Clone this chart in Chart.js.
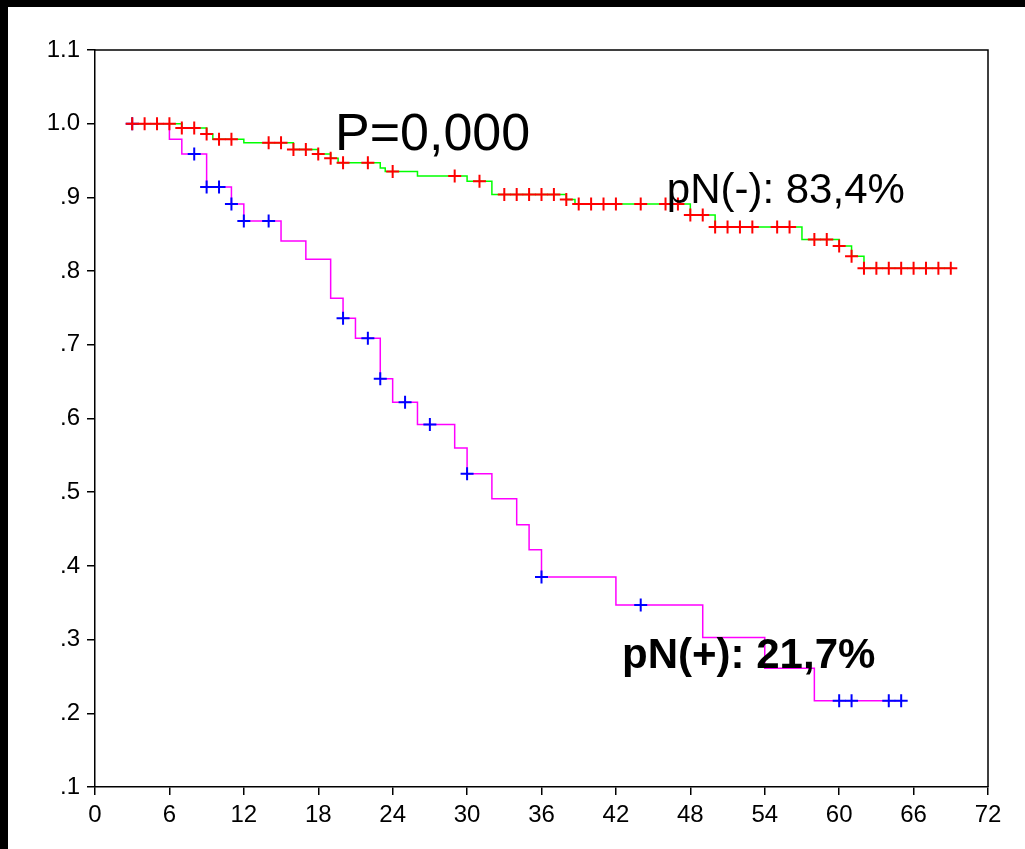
<!DOCTYPE html>
<html>
<head>
<meta charset="utf-8">
<script src="https://cdn.jsdelivr.net/npm/chart.js@4/dist/chart.umd.min.js"></script>
<style>
    html, body { margin: 0; padding: 0; background: #000; }
    #wrap { position: absolute; left: 8px; top: 7px; width: 1017px; height: 842px; background: #fff; }
</style>
</head>
<body>
<div id="wrap"><canvas id="kmChart"></canvas></div>
<script>
// pN(-): step times (months) and survival after each drop
const pNegTimes = [3, 7, 9, 9.5, 12, 16, 18, 19, 19.6, 23, 23.4, 26, 30, 32, 38, 38.7, 48, 50, 57, 60, 61, 62, 69.2];
const pNegSurvival = [1.0, 0.994, 0.986, 0.979, 0.974, 0.965, 0.959, 0.953, 0.947, 0.940, 0.935, 0.929, 0.922, 0.904, 0.897, 0.891, 0.876, 0.860, 0.843, 0.834, 0.820, 0.804, 0.804];
const pNegCensored = [3, 4, 5, 6, 7, 8, 9, 10, 11, 14, 15, 16, 17, 18, 19, 20, 22, 24, 29, 31, 33, 34, 35, 36, 37, 38, 39, 40, 41, 42, 44, 46, 47, 48, 49, 50, 51, 52, 53, 55, 56, 58, 59, 60, 61, 62, 63, 64, 65, 66, 67, 68, 69];

// pN(+)
const pPosTimes = [3, 6, 7, 9, 11, 12, 15, 17, 19, 20, 21, 23, 24, 26, 29, 30, 32, 34, 35, 36, 42, 49, 54, 58, 65];
const pPosSurvival = [1.0, 0.979, 0.959, 0.914, 0.891, 0.868, 0.841, 0.816, 0.763, 0.736, 0.709, 0.654, 0.622, 0.592, 0.560, 0.525, 0.491, 0.456, 0.422, 0.385, 0.347, 0.303, 0.261, 0.217, 0.217];
const pPosCensored = [3, 8, 9, 10, 11, 12, 14, 20, 22, 23, 25, 27, 30, 36, 44, 60, 61, 64, 65];

const xTicks = [0, 6, 12, 18, 24, 30, 36, 42, 48, 54, 60, 66, 72];

const labels = [
    { text: 'P=0,000', x: 19.35, y: 0.964, font: '52px "Liberation Sans", Arial, sans-serif' },
    { text: 'pN(-): 83,4%', x: 46.1, y: 0.892, font: '42px "Liberation Sans", Arial, sans-serif' },
    { text: 'pN(+): 21,7%', x: 42.5, y: 0.262, font: 'bold 42px "Liberation Sans", Arial, sans-serif' }
];

function toPoints(times, surv) {
    return times.map((t, i) => ({ x: t, y: surv[i] }));
}

// survival level of the curve at time t (used to place censor marks on the curve)
function survivalAt(times, surv, t) {
    let s = surv[0];
    for (let i = 0; i < times.length; i++) {
        if (times[i] <= t + 1e-9) s = surv[i];
    }
    return s;
}

function censorPoints(times, surv, censored) {
    return censored.map(t => ({ x: t, y: survivalAt(times, surv, t) }));
}

const framePlugin = {
    id: 'frame',
    beforeDatasetsDraw(chart) {
        const { ctx, chartArea } = chart;
        ctx.save();
        ctx.strokeStyle = '#000';
        ctx.lineWidth = 1.5;
        ctx.beginPath();
        ctx.moveTo(chartArea.left, chartArea.top);
        ctx.lineTo(chartArea.right, chartArea.top);
        ctx.lineTo(chartArea.right, chartArea.bottom);
        ctx.stroke();
        ctx.restore();
    },
    afterDatasetsDraw(chart) {
        const { ctx, scales } = chart;
        ctx.save();
        ctx.fillStyle = '#000';
        ctx.textBaseline = 'alphabetic';
        ctx.textAlign = 'left';
        labels.forEach(l => {
            ctx.font = l.font;
            ctx.fillText(l.text, scales.x.getPixelForValue(l.x), scales.y.getPixelForValue(l.y));
        });
        ctx.restore();
    }
};

const tickFont = { family: '"Liberation Sans", Arial, sans-serif', size: 24 };

const ctx = document.getElementById('kmChart').getContext('2d');
new Chart(ctx, {
    type: 'line',
    data: {
        datasets: [{
            label: 'pN(-)',
            data: toPoints(pNegTimes, pNegSurvival),
            borderColor: '#00ff00',
            borderWidth: 1.5,
            stepped: true,
            pointRadius: 0,
            fill: false,
            order: 1
        }, {
            label: 'pN(+)',
            data: toPoints(pPosTimes, pPosSurvival),
            borderColor: '#ff00ff',
            borderWidth: 1.5,
            stepped: true,
            pointRadius: 0,
            fill: false,
            order: 2
        }, {
            label: 'pN(-) censored',
            data: censorPoints(pNegTimes, pNegSurvival, pNegCensored),
            showLine: false,
            pointStyle: 'cross',
            pointRadius: 6.5,
            pointBorderWidth: 2,
            pointBorderColor: '#ff0000',
            borderColor: '#ff0000',
            order: 0
        }, {
            label: 'pN(+) censored',
            data: censorPoints(pPosTimes, pPosSurvival, pPosCensored),
            showLine: false,
            pointStyle: 'cross',
            pointRadius: 6.5,
            pointBorderWidth: 2,
            pointBorderColor: '#0000ff',
            borderColor: '#0000ff',
            order: 0
        }]
    },
    options: {
        responsive: true,
        maintainAspectRatio: false,
        animation: false,
        layout: { padding: { top: 43, right: 37, left: 0, bottom: 0 } },
        plugins: {
            legend: { display: false },
            tooltip: { enabled: false }
        },
        scales: {
            x: {
                type: 'linear',
                min: 0,
                max: 72,
                afterBuildTicks: axis => { axis.ticks = xTicks.map(v => ({ value: v })); },
                afterFit: axis => { axis.height = 62; },
                grid: { drawOnChartArea: false, drawTicks: true, tickLength: 8, color: '#000', lineWidth: 1.5 },
                border: { color: '#000', width: 1.5 },
                ticks: { color: '#000', font: tickFont, padding: 6, maxRotation: 0, autoSkip: false }
            },
            y: {
                type: 'linear',
                min: 0.1,
                max: 1.1,
                ticks: {
                    stepSize: 0.1,
                    color: '#000',
                    font: tickFont,
                    padding: 7,
                    callback: v => {
                        const s = (Math.round(v * 10) / 10).toFixed(1);
                        return s.startsWith('0') ? s.slice(1) : s;
                    }
                },
                afterFit: axis => { axis.width = 87; },
                grid: { drawOnChartArea: false, drawTicks: true, tickLength: 8, color: '#000', lineWidth: 1.5 },
                border: { color: '#000', width: 1.5 }
            }
        }
    },
    plugins: [framePlugin]
});
</script>
</body>
</html>
